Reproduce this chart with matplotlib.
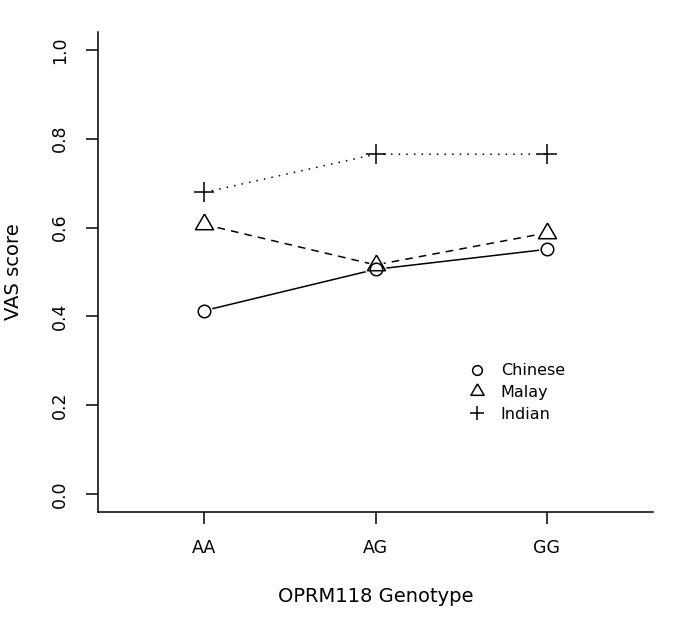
import matplotlib
matplotlib.use("Agg")
import matplotlib.pyplot as plt
from matplotlib.lines import Line2D

# ── Data ──────────────────────────────────────────────────
genotypes = ["AA", "AG", "GG"]
chinese   = [0.413, 0.506, 0.551]
malay     = [0.607, 0.516, 0.588]
indian    = [0.679, 0.765, 0.765]
groups    = ["Chinese", "Malay", "Indian"]
y_ticks   = [0.0, 0.2, 0.4, 0.6, 0.8, 1.0]

# R style open triangle (pch = 2), centroid on the point
TRI = [(0, 1), (0.866, -0.5), (-0.866, -0.5), (0, 1)]

plt.rcParams["font.family"] = ["DejaVu Sans"]

fig = plt.figure(figsize=(6.85, 6.29), dpi=100)
ax  = fig.add_axes([0.1431, 0.1860, 0.8102, 0.7631])

x = list(range(1, len(genotypes) + 1))

# (values, dash pattern, marker, marker size)
series = [
    (chinese, None,   "o", 9),
    (malay,   (5, 4), TRI, 15),
    (indian,  (1, 4), "+", 15),
]

# lines first, then white fills, then outlines on top
for vals, dash, mk, ms in series:
    ln, = ax.plot(x, vals, color="black", linewidth=1.1, zorder=2)
    if dash is not None:
        ln.set_dashes(dash)
for vals, dash, mk, ms in series:
    if mk != "+":
        ax.plot(x, vals, linestyle="none", marker=mk, markersize=ms,
                markerfacecolor="white", markeredgecolor="white",
                markeredgewidth=3, zorder=3)
for vals, dash, mk, ms in series:
    ax.plot(x, vals, linestyle="none", marker=mk, markersize=ms,
            markerfacecolor="none", markeredgecolor="black",
            markeredgewidth=1.1, zorder=4)

ax.set_xlim(0.38, 3.62)
ax.set_ylim(-0.04, 1.04)

ax.set_xticks(x)
ax.set_xticklabels(genotypes)
ax.set_yticks(y_ticks)
ax.set_yticklabels([f"{v:.1f}" for v in y_ticks])

ax.spines["top"].set_visible(False)
ax.spines["right"].set_visible(False)
for s in ["left", "bottom"]:
    ax.spines[s].set_linewidth(1.1)

ax.tick_params(axis="x", length=8.6, width=1.1, pad=10.5, labelsize=12.5)
ax.tick_params(axis="y", length=8.6, width=1.1, pad=12.5, labelsize=12.5,
               labelrotation=90)
for lbl in ax.get_yticklabels():
    lbl.set_verticalalignment("center")

ax.set_xlabel("OPRM118 Genotype", fontsize=14)
ax.set_ylabel("VAS score", fontsize=14)
ax.xaxis.set_label_coords(0.5, -0.156)
ax.yaxis.set_label_coords(-0.135, 0.5)

# ── Legend (markers only, no frame) ───────────────────────
handles = [
    Line2D([], [], linestyle="none", marker="o", markersize=7,
           markerfacecolor="none", markeredgecolor="black", markeredgewidth=1.1),
    Line2D([], [], linestyle="none", marker=TRI, markersize=11,
           markerfacecolor="none", markeredgecolor="black", markeredgewidth=1.1),
    Line2D([], [], linestyle="none", marker="+", markersize=10,
           markeredgecolor="black", markeredgewidth=1.1),
]
ax.legend(handles, groups, loc="upper left", bbox_to_anchor=(0.668, 0.31),
          frameon=False, fontsize=11.5, handlelength=1.0, handletextpad=1.0,
          labelspacing=0.42, borderpad=0, borderaxespad=0)

fig.savefig("out.png", dpi=100)
plt.close(fig)
